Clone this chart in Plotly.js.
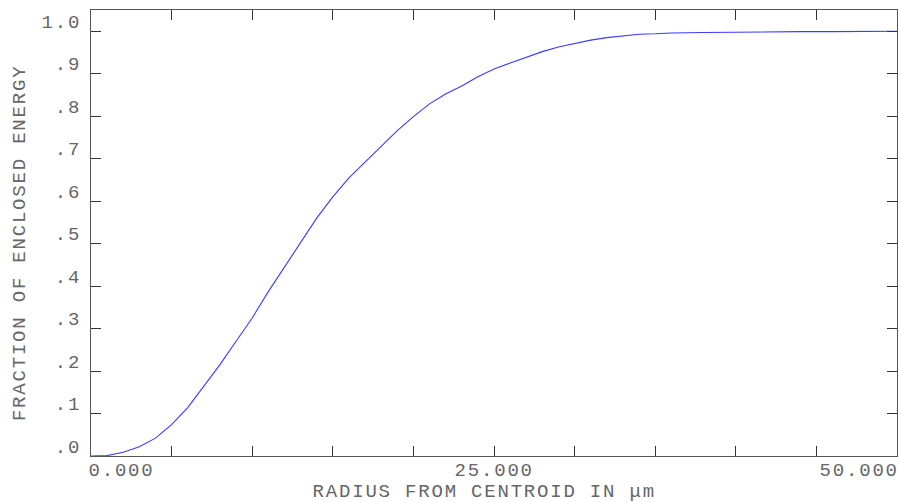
<!DOCTYPE html>
<html>
<head>
<meta charset="utf-8">
<script src="https://cdn.plot.ly/plotly-3.0.1.min.js"></script>
<style>
  html, body { margin: 0; padding: 0; background: #fff; }
  #chart { width: 898px; height: 502px; }
  #chart text { letter-spacing: 1.8px; }
</style>
</head>
<body>
<div id="chart"></div>
<script>
// Radius from centroid (µm) and fraction of enclosed energy
const radius = [0, 1, 2, 3, 4, 5, 6, 7, 8, 9, 10, 11, 12, 13, 14, 15, 16, 17, 18, 19, 20,
  21, 22, 23, 24, 25, 26, 27, 28, 29, 30, 31, 32, 33, 34, 35, 36, 38, 40, 42, 44, 46, 48, 50];
const fraction = [0, 0.001, 0.009, 0.022, 0.042, 0.074, 0.114, 0.165, 0.215, 0.27, 0.325,
  0.387, 0.445, 0.505, 0.56, 0.61, 0.655, 0.692, 0.73, 0.766, 0.799,
  0.829, 0.852, 0.871, 0.893, 0.911, 0.925, 0.938, 0.952, 0.963, 0.971,
  0.979, 0.985, 0.989, 0.993, 0.994, 0.996, 0.997, 0.998, 0.998, 0.999, 0.999, 1.0, 1.0];

const xTickVals = [0, 5, 10, 15, 20, 25, 30, 35, 40, 45, 50];
const xLabelVals = [0, 25, 50];
const xLabelText = ["0.000", "25.000", "50.000"];
const yTickVals = [0, 0.1, 0.2, 0.3, 0.4, 0.5, 0.6, 0.7, 0.8, 0.9, 1.0];
const yTickText = [".0", ".1", ".2", ".3", ".4", ".5", ".6", ".7", ".8", ".9", "1.0"];
const xTitle = "RADIUS FROM CENTROID IN μm";
const yTitle = "FRACTION OF ENCLOSED ENERGY";

const FONT = "Liberation Mono, DejaVu Sans Mono, monospace";
const TEXT_COLOR = "#666";

const trace = {
  x: radius,
  y: fraction,
  type: "scatter",
  mode: "lines",
  line: { color: "#3b3bff", width: 1.1 },
  hoverinfo: "x+y"
};

const anchors = ["left", "center", "right"];
const xShifts = [0, 0, -2];
const annotations = xLabelVals.map((v, i) => ({
  x: v, xref: "x", y: 0, yref: "paper",
  text: xLabelText[i], showarrow: false,
  xanchor: anchors[i], yanchor: "middle", yshift: -15, xshift: xShifts[i],
  font: { family: FONT, size: 19, color: TEXT_COLOR }
}));
annotations.push({
  x: 0.488, xref: "paper", y: 0, yref: "paper",
  text: xTitle, showarrow: false, xanchor: "center", yanchor: "middle", yshift: -36,
  font: { family: FONT, size: 19, color: TEXT_COLOR }
});
annotations.push({
  x: 0, xref: "paper", y: 0.478, yref: "paper",
  text: yTitle, showarrow: false, textangle: -90, xanchor: "center", yanchor: "middle", xshift: -71,
  font: { family: FONT, size: 19, color: TEXT_COLOR }
});

const layout = {
  width: 898, height: 502,
  margin: { l: 91, r: 1, t: 10, b: 46 },
  paper_bgcolor: "#fff", plot_bgcolor: "#fff",
  showlegend: false,
  xaxis: {
    range: [0, 50], showgrid: false, zeroline: false,
    showline: true, linecolor: "#555", linewidth: 1, mirror: "ticks",
    ticks: "inside", ticklen: 10, tickcolor: "#333", tickwidth: 1,
    tickmode: "array", tickvals: xTickVals, showticklabels: false
  },
  yaxis: {
    range: [0, 1.05], showgrid: false, zeroline: false,
    showline: true, linecolor: "#555", linewidth: 1, mirror: "ticks",
    ticks: "inside", ticklen: 10, tickcolor: "#333", tickwidth: 1,
    tickmode: "array", tickvals: yTickVals, ticktext: yTickText,
    ticklabelstandoff: 5, ticklabelshift: -10,
    tickfont: { family: FONT, size: 19, color: TEXT_COLOR }
  },
  annotations: annotations
};

Plotly.newPlot("chart", [trace], layout, { displayModeBar: false, staticPlot: true });
</script>
</body>
</html>
